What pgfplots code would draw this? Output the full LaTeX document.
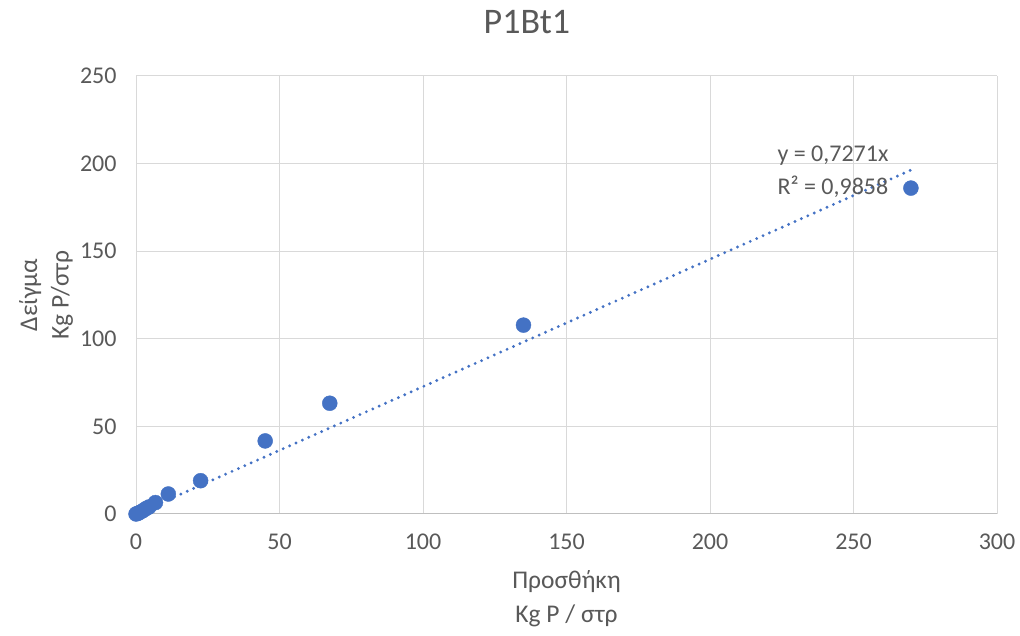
\documentclass[border=0pt]{standalone}
\usepackage{fontspec}
\setmainfont{Carlito}
\usepackage{pgfplots}
\pgfplotsset{compat=1.18}
\definecolor{txt}{HTML}{595959}
\definecolor{grd}{HTML}{D9D9D9}
\definecolor{ax}{HTML}{BFBFBF}
\definecolor{blu}{HTML}{4472C4}
\begin{document}
\begin{tikzpicture}
\begin{axis}[
  width=861bp, height=438bp, scale only axis,
  xmin=0, xmax=300, ymin=0, ymax=250,
  xtick={0,50,...,300}, ytick={0,50,...,250},
  grid=major, major grid style={grd, line width=1bp},
  axis line style={draw=none}, tick style={draw=none},
  tick label style={font=\fontsize{24bp}{26bp}\selectfont, text=txt},
  /pgf/number format/assume math mode=true,
  xticklabel style={yshift=-16bp},
  yticklabel style={xshift=-16bp},
  clip=false,
]
\draw[ax, line width=1bp] (axis cs:0,0) -- (axis cs:300,0);
\addplot[only marks, mark=*, mark size=7.5bp, mark options={fill=blu, draw=blu}] coordinates {
(0,0) (0.6,0.3) (1.3,0.9) (2.3,1.8) (3.4,3) (4.5,4) (6.75,6.5) (11.25,11.4) (22.5,19) (45,41.7) (67.5,63.2) (135,107.8) (270,186)
};
\addplot[blu, line width=3.2bp, line cap=round, dash pattern=on 0bp off 7bp] coordinates {(0,0) (270,196.3)};
\node[anchor=west, text=txt, font=\fontsize{24bp}{26bp}\selectfont] at (axis cs:222.3,204.3) {y = 0,7271x};
\node[anchor=west, text=txt, font=\fontsize{24bp}{26bp}\selectfont] at (axis cs:222.3,187) {R² = 0,9858};
\node[text=txt, font=\fontsize{36bp}{38bp}\selectfont] at (rel axis cs:0.454,1.123) {P1Bt1};
\node[text=txt, font=\fontsize{25.5bp}{28bp}\selectfont] at (rel axis cs:0.5,-0.155) {Προσθήκη};
\node[text=txt, font=\fontsize{25.5bp}{28bp}\selectfont] at (rel axis cs:0.5,-0.232) {Kg P / στρ};
\node[text=txt, rotate=90, font=\fontsize{25.5bp}{28bp}\selectfont] at (rel axis cs:-0.123,0.5) {Δείγμα};
\node[text=txt, rotate=90, font=\fontsize{25.5bp}{28bp}\selectfont] at (rel axis cs:-0.086,0.5) {Kg P/στρ};
\coordinate (bl) at (rel axis cs:-0.158,-0.2785);
\coordinate (tr) at (rel axis cs:1.0267,1.1735);
\end{axis}
\pgfresetboundingbox
\path[use as bounding box] (bl) rectangle (tr);
\end{tikzpicture}
\end{document}
